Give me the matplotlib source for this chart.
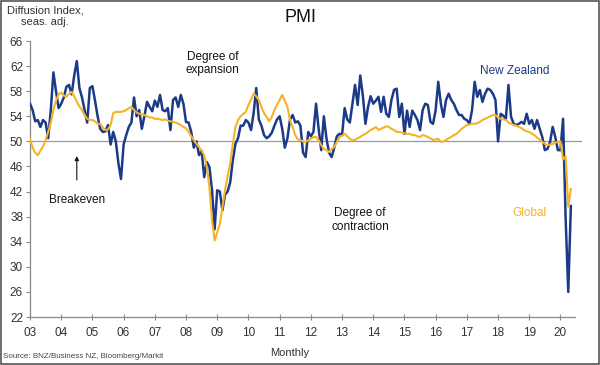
import numpy as np
import matplotlib
matplotlib.use('Agg')
import matplotlib.pyplot as plt
from matplotlib.patches import Rectangle

plt.rcParams['font.family'] = ['Liberation Sans', 'DejaVu Sans']

# monthly PMI, Jan 2003 - May 2020
nz = [56.0, 55.0, 53.2, 53.4, 52.3, 53.4, 53.0, 50.5, 55.0, 61.0, 58.0, 55.3,   # 2003
      56.0, 57.0, 58.7, 59.0, 57.5, 60.5, 62.8, 58.5, 57.0, 55.0, 53.0, 58.5,   # 2004
      58.8, 56.5, 54.0, 52.0, 51.5, 51.6, 52.6, 49.5, 51.5, 50.0, 46.5, 44.0,   # 2005
      49.5, 51.0, 52.3, 53.0, 57.0, 54.0, 55.0, 52.0, 54.0, 56.3, 55.5, 54.8,   # 2006
      56.5, 55.5, 57.4, 55.0, 54.8, 55.3, 51.8, 56.6, 57.0, 55.5, 57.4, 56.0,   # 2007
      53.1, 53.0, 51.5, 49.0, 50.0, 47.8, 48.5, 44.3, 46.7, 45.9, 42.2, 36.0,   # 2008
      42.2, 42.0, 39.0, 41.5, 42.0, 43.5, 47.0, 49.6, 50.5, 52.5, 52.5, 53.4,   # 2009
      53.0, 51.8, 54.5, 58.5, 53.5, 52.5, 51.0, 50.5, 50.8, 51.4, 52.5, 53.5,   # 2010
      54.0, 52.0, 49.0, 50.5, 53.5, 54.2, 53.0, 53.2, 52.5, 48.2, 47.5, 51.5,   # 2011
      50.8, 51.5, 56.0, 52.0, 48.6, 54.0, 50.5, 48.2, 47.5, 49.0, 50.8, 51.2,   # 2012
      51.0, 55.3, 53.5, 53.0, 56.0, 59.0, 55.8, 60.5, 57.3, 52.8, 55.5, 57.2,   # 2013
      56.0, 56.5, 57.1, 54.7, 57.1, 54.4, 53.9, 56.6, 58.2, 58.4, 53.9, 56.0,   # 2014
      51.2, 54.9, 52.3, 54.9, 54.2, 53.4, 51.8, 55.0, 56.0, 55.8, 53.1, 52.8,   # 2015
      55.0, 59.5, 56.0, 53.9, 56.6, 57.6, 56.6, 56.0, 55.0, 54.2, 54.2, 53.6,   # 2016
      53.4, 52.8, 55.0, 59.5, 57.1, 58.2, 56.3, 57.6, 58.4, 58.2, 57.6, 56.6,   # 2017
      50.0, 54.4, 54.1, 53.6, 59.0, 53.9, 52.8, 52.6, 52.8, 53.1, 52.8, 54.4,   # 2018
      52.8, 53.4, 52.0, 53.4, 52.0, 50.7, 48.6, 48.8, 49.9, 52.3, 50.7, 48.6,   # 2019
      48.6, 53.6, 37.5, 26.0, 39.7]                                             # 2020

glob = [50.4, 49.0, 48.2, 47.8, 48.5, 49.2, 50.2, 51.5, 53.0, 55.0, 56.5, 57.5,
        57.8, 57.3, 57.1, 57.6, 57.9, 57.2, 56.3, 55.6, 55.0, 54.2, 53.6, 53.4,
        53.4, 53.2, 52.8, 52.8, 52.2, 51.8, 51.9, 52.6, 54.5, 54.7, 54.7, 54.7,
        54.8, 55.0, 55.3, 55.5, 55.0, 54.6, 54.4, 54.3, 54.2, 54.0, 53.8, 53.8,
        53.6, 53.6, 53.5, 53.4, 53.5, 53.3, 53.2, 53.1, 53.0, 52.8, 52.6, 52.3,
        52.1, 51.5, 50.8, 50.2, 49.6, 49.1, 48.5, 47.8, 45.9, 42.7, 37.4, 34.2,
        35.5, 36.8, 39.5, 42.2, 44.5, 46.5, 49.6, 52.3, 53.4, 54.0, 54.4, 54.7,
        55.8, 56.6, 57.6, 57.2, 56.6, 55.5, 54.5, 53.9, 53.2, 53.9, 55.0, 55.8,
        56.6, 57.4, 56.5, 55.5, 53.4, 52.3, 51.0, 50.3, 50.2, 50.0, 49.9, 50.2,
        50.4, 50.7, 50.7, 50.2, 49.4, 48.8, 48.6, 48.3, 48.8, 49.1, 49.9, 50.7,
        50.9, 51.2, 50.8, 50.4, 50.2, 50.2, 50.5, 50.7, 51.0, 51.2, 51.5, 51.8,
        52.0, 52.3, 51.8, 52.0, 52.2, 52.4, 52.3, 52.0, 51.8, 51.5, 51.5, 51.4,
        51.3, 51.2, 51.2, 51.0, 51.0, 50.8, 50.7, 51.0, 50.9, 50.7, 50.5, 50.2,
        50.3, 50.4, 49.9, 50.0, 50.2, 50.5, 50.7, 51.0, 51.2, 51.6, 52.0, 52.3,
        52.6, 52.7, 52.8, 52.8, 52.9, 53.1, 53.4, 53.6, 53.8, 54.0, 54.2, 54.2,
        53.8, 53.6, 53.5, 53.4, 53.0, 52.8, 52.6, 52.5, 52.3, 52.1, 51.8, 51.6,
        51.5, 51.2, 51.0, 50.6, 50.3, 49.9, 49.6, 49.4, 49.5, 49.6, 49.8, 49.9,
        50.0, 47.1, 47.6, 39.6, 42.4]

years = list(range(2003, 2021))
year_labels = ['%02d' % (y % 100) for y in years]
yticks = list(range(22, 67, 4))

t_nz = 2003 + np.arange(len(nz)) / 12.0
t_gl = 2003 + np.arange(len(glob)) / 12.0

navy = '#1b3a87'
gold = '#f5b325'

fig = plt.figure(figsize=(6, 3.65), dpi=100)
ax = fig.add_axes([30/600, 48/365, 552/600, 276/365])

ax.axhline(50, color='#9a9a9a', lw=0.9, zorder=1)
ax.plot(t_nz, nz, color=navy, lw=1.8, zorder=3)
ax.plot(t_gl, glob, color=gold, lw=1.5, zorder=4)

ax.set_xlim(2003, 2020.69)
ax.set_ylim(22, 66)
ax.set_xticks(years)
ax.set_xticklabels(year_labels)
ax.set_yticks(yticks)

for s in ['top', 'right']:
    ax.spines[s].set_visible(False)
for s in ['left', 'bottom']:
    ax.spines[s].set_color('#888888')
    ax.spines[s].set_linewidth(0.9)
ax.spines['bottom'].set_bounds(2003, 2020.45)
ax.tick_params(axis='x', direction='inout', length=4, width=0.8, color='#888888',
               labelsize=8.5, labelcolor='#333333', pad=5)
ax.tick_params(axis='y', direction='out', length=3, width=0.8, color='#888888',
               labelsize=8.5, labelcolor='#333333', pad=2)

# annotations
fig.text(0.5, 1 - 18/365, 'PMI', ha='center', va='center', fontsize=13, color='#111111')
fig.text(45/600, 1 - 16/365, 'Diffusion Index,\nseas. adj.', ha='center', va='center',
         fontsize=8, color='#333333', linespacing=1.15)
ax.text(2008.85, 62.4, 'Degree of\nexpansion', ha='center', va='center', fontsize=8.5, color='#111111')
ax.text(2013.58, 37.5, 'Degree of\ncontraction', ha='center', va='center', fontsize=8.5, color='#111111')
ax.text(2018.52, 61.2, 'New Zealand', ha='center', va='center', fontsize=8.5, color=navy)
ax.text(2018.99, 38.6, 'Global', ha='center', va='center', fontsize=8.5, color=gold)
ax.text(2004.52, 40.6, 'Breakeven', ha='center', va='center', fontsize=8.5, color='#111111')
ax.annotate('', xy=(2004.5, 48.1), xytext=(2004.5, 43.4),
            arrowprops=dict(arrowstyle='-|>', color='#111111', lw=0.8, mutation_scale=6))
fig.text(290/600, 1 - 353/365, 'Monthly', ha='center', va='center', fontsize=8, color='#333333')
fig.text(3/600, 1 - 356/365, 'Source: BNZ/Business NZ, Bloomberg/Markit', ha='left', va='center',
         fontsize=5.8, color='#444444')

fig.patches.append(Rectangle((0.001, 0.002), 0.997, 0.995, transform=fig.transFigure,
                             fill=False, edgecolor='#555555', lw=1.2))

fig.savefig('out.png', dpi=100)
